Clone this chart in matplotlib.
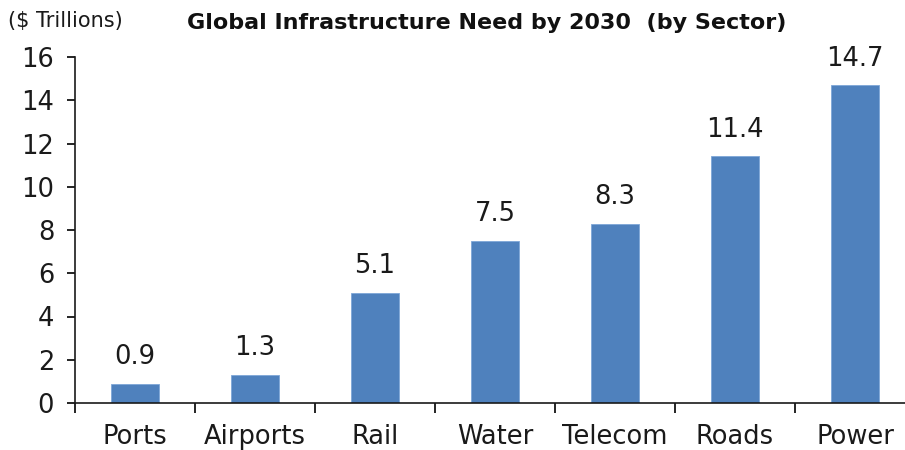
import matplotlib
matplotlib.use("Agg")
import matplotlib.pyplot as plt
import numpy as np

categories = ["Ports", "Airports", "Rail", "Water", "Telecom", "Roads", "Power"]
values = [0.9, 1.3, 5.1, 7.5, 8.3, 11.4, 14.7]
yticks = [0, 2, 4, 6, 8, 10, 12, 14, 16]

plt.rcParams['font.family'] = ['DejaVu Sans']

fig = plt.figure(figsize=(9.05, 4.5), dpi=100)
ax = fig.add_axes([75/905, 1-403/450, 840/905, (403-57)/450])

x = np.arange(len(categories))
bars = ax.bar(x, values, width=0.4, color="#4F81BD", edgecolor="#7EA6D8", linewidth=0.6, zorder=2)
for xi, v in zip(x, values):
    ax.text(xi, v + 0.62, f"{v:.1f}", ha="center", va="bottom", fontsize=18.5, color="#1a1a1a")

ax.set_xlim(-0.5, len(categories) - 0.5)
ax.set_ylim(0, 16)
ax.set_yticks(yticks)
ax.set_yticklabels([str(t) for t in yticks], fontsize=18.5, color="#1a1a1a")
ax.set_xticks(x)
ax.set_xticklabels(categories, fontsize=18.5, color="#1a1a1a")
ax.set_xticks(np.arange(-0.5, len(categories) - 0.5, 1.0), minor=True)
ax.tick_params(axis="x", which="major", length=0, pad=15)
ax.tick_params(axis="x", which="minor", length=7, width=1.2, direction="out")
ax.tick_params(axis="y", length=6, width=1.2, direction="out", pad=9)

for s in ["top", "right"]:
    ax.spines[s].set_visible(False)
for s in ["left", "bottom"]:
    ax.spines[s].set_linewidth(1.2)
    ax.spines[s].set_color("#1a1a1a")

fig.text(487/905, 1-23/450, "Global Infrastructure Need by 2030  (by Sector)", ha="center", va="center",
         fontsize=16, fontweight="bold", color="#111111")
fig.text(8/905, 1-21/450, "($ Trillions)", ha="left", va="center", fontsize=15, color="#1a1a1a")

fig.savefig("out.png", dpi=100)
